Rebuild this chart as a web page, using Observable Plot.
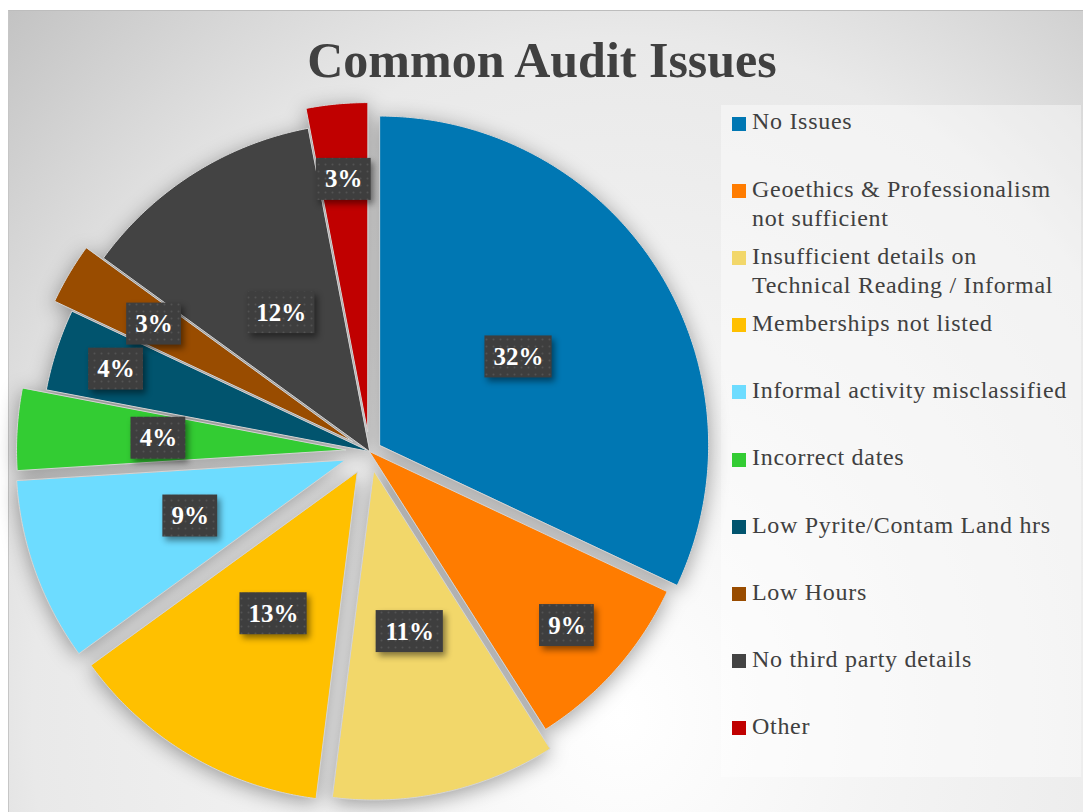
<!DOCTYPE html>
<html><head><meta charset="utf-8">
<script src="https://cdn.jsdelivr.net/npm/d3@7"></script>
<script src="https://cdn.jsdelivr.net/npm/@observablehq/plot@0.6"></script>
<style>
html,body{margin:0;padding:0;background:#fff;overflow:hidden;}
#page{position:relative;width:1083px;height:812px;}
#bg{position:absolute;left:8px;top:10px;width:1075px;height:802px;box-sizing:border-box;
 border-top:1px solid #bdbdbd;border-left:1px solid #c6c6c6;
 background:radial-gradient(ellipse farthest-corner at 57% 88%, #ffffff 0%, #f4f4f4 30%, #e9e9e9 68%, #c3c3c3 100%);}
#title{position:absolute;left:0;width:1084px;top:35px;text-align:center;font-family:"Liberation Serif",serif;font-weight:bold;font-size:50px;line-height:50px;color:#404040;white-space:nowrap;}
#legendBox{position:absolute;left:721px;top:105px;width:360px;height:672px;background:rgba(255,255,255,0.42);}
.lg-mark{position:absolute;left:732px;width:14px;height:14px;}
.lg-text{position:absolute;left:752px;width:326px;font-family:"Liberation Serif",serif;font-size:24px;line-height:29px;letter-spacing:0.7px;color:#404040;}
#plot{position:absolute;left:0;top:0;}
</style></head>
<body>
<div id="page">
  <div id="bg"></div>
  <div id="title"></div>
  <div id="legendBox"></div>
  <div id="plot"></div>
</div>
<script>
// ---- data ----
const chartTitle = "Common Audit Issues";
const categories = [
  "No Issues",
  "Geoethics & Professionalism not sufficient",
  "Insufficient details on Technical Reading / Informal",
  "Memberships not listed",
  "Informal activity misclassified",
  "Incorrect dates",
  "Low Pyrite/Contam Land hrs",
  "Low Hours",
  "No third party details",
  "Other"
];
const values = [32, 9, 11, 13, 9, 4, 4, 3, 12, 3];
const percentLabels = ["32%", "9%", "11%", "13%", "9%", "4%", "4%", "3%", "12%", "3%"];
const colors = ["#0077b3", "#ff7c00", "#f2d76a", "#ffc000", "#6ddcff", "#33cc33", "#01546e", "#994c00", "#434343", "#c00000"];

// ---- layout / style settings (not data) ----
const explode = [12, 0, 20, 24, 26, 24, 0, 20, 0, 20];
const labelRadius = [0.5, 0.8, 0.5, 0.5, 0.5, 0.57, 0.81, 0.7, 0.5, 0.77];
const CX = 369, CY = 451, R = 329;

document.getElementById("title").textContent = chartTitle;

const total = d3.sum(values);
let acc = 0;
const slices = values.map((v, i) => {
  const a0 = acc / total * 2 * Math.PI; acc += v;
  const a1 = acc / total * 2 * Math.PI;
  const mid = (a0 + a1) / 2;
  return {i, cat: categories[i], a0, a1, mid,
    vx: CX + explode[i] * Math.sin(mid), vy: CY - explode[i] * Math.cos(mid)};
});
const pts = [];
for (const s of slices) {
  pts.push({cat: s.cat, x: s.vx, y: s.vy});
  const n = Math.max(2, Math.ceil((s.a1 - s.a0) / (Math.PI / 360)));
  for (let k = 0; k <= n; k++) {
    const a = s.a0 + (s.a1 - s.a0) * k / n;
    pts.push({cat: s.cat, x: s.vx + R * Math.sin(a), y: s.vy - R * Math.cos(a)});
  }
}
const lbls = slices.map(s => {
  const rr = labelRadius[s.i] * R;
  const x = s.vx + rr * Math.sin(s.mid), y = s.vy - rr * Math.cos(s.mid);
  const t = percentLabels[s.i];
  const w = 30 + 12.4 * t.length, h = 42;
  return {x, y, label: t, x1: x - w / 2, x2: x + w / 2, y1: y - h / 2, y2: y + h / 2};
});

const plot = Plot.plot({
  width: 1083, height: 812, margin: 0,
  x: {domain: [0, 1083], range: [0, 1083], axis: null},
  y: {domain: [0, 812], range: [0, 812], axis: null},
  color: {domain: categories, range: colors},
  style: {background: "transparent", overflow: "visible"},
  marks: [
    Plot.line(pts, {x: "x", y: "y", z: "cat", fill: "cat", stroke: "#d4d4d4", strokeWidth: 1, curve: "linear-closed"}),
    Plot.rect(lbls, {x1: "x1", x2: "x2", y1: "y1", y2: "y2", fill: "#404040"}),
    Plot.text(lbls, {x: "x", y: "y", text: "label", fill: "white", fontSize: 25, fontWeight: "bold", fontFamily: "Liberation Serif"})
  ]
});
document.getElementById("plot").appendChild(plot);

const svg = d3.select(plot);
svg.insert("defs", ":first-child").html(
  '<pattern id="dots" width="7" height="7" patternUnits="userSpaceOnUse">' +
  '<rect width="7" height="7" fill="#3e3e3e"/><circle cx="3.5" cy="3.5" r="1" fill="#535353"/></pattern>');
svg.select('g[aria-label="line"]').style("filter", "drop-shadow(0px 4px 10px rgba(0,0,0,0.36))");
svg.select('g[aria-label="rect"]').style("filter", "drop-shadow(3px 4px 3px rgba(0,0,0,0.45))")
  .selectAll("rect").attr("fill", "url(#dots)");

// legend
const page = document.getElementById("page");
categories.forEach((c, i) => {
  const yc = 122.5 + 67.2 * i;
  const m = document.createElement("div");
  m.className = "lg-mark"; m.style.top = (yc - 6) + "px"; m.style.background = colors[i];
  page.appendChild(m);
  const t = document.createElement("div");
  t.className = "lg-text"; t.style.top = (yc - 15.1) + "px"; t.textContent = c;
  page.appendChild(t);
});
</script>
</body></html>
